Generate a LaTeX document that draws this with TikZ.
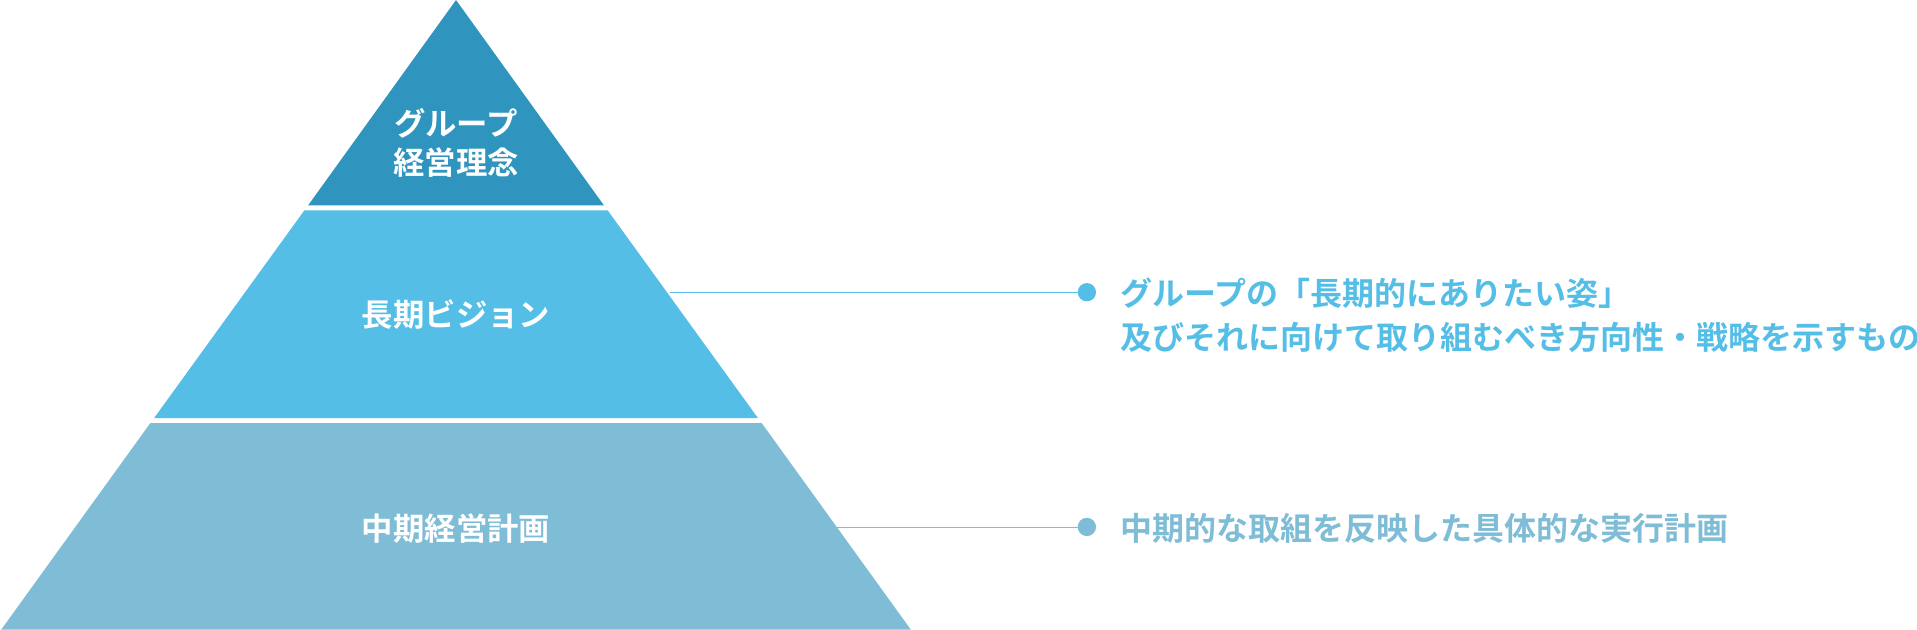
\documentclass[tikz,border=0pt]{standalone}
\usepackage{fontspec}
\setmainfont{Noto Sans CJK JP Bold}
\definecolor{topblue}{HTML}{3095BE}
\definecolor{midblue}{HTML}{55BEE6}
\definecolor{lowblue}{HTML}{7FBDD6}
\begin{document}
\begin{tikzpicture}[x=0.02cm,y=-0.02cm]
\tikzset{layer/.style={text=white,font=\fontsize{14.6}{18}\selectfont,align=center},
  note/.style={anchor=west,font=\fontsize{14.9}{20.5}\selectfont,align=left}}
    \useasboundingbox (0,0) rectangle (1568,515);

    \fill[topblue] (373,0) -- (494,168) -- (252,168) -- cycle;
    \fill[midblue] (497,172) -- (620,342) -- (126,342) -- (249,172) -- cycle;
    \fill[lowblue] (623,346) -- (745,515) -- (1,515) -- (123,346) -- cycle;

\node[layer] (keiei) at (373,117) {グループ\\経営理念};
\node[layer] (vision) at (373,257) {長期ビジョン};
\node[layer] (plan) at (373,432) {中期経営計画};

\coordinate (v) at (548,239);
\coordinate (p) at (683,431);
\fill[midblue] (889,239) circle (7.5) coordinate (vdot);
\fill[lowblue] (889,431) circle (7.5) coordinate (pdot);
\draw[midblue] (v) -- (vdot);
\draw[lowblue] (p) -- (pdot);

\node[note,text=midblue] (visionnote) at (910,258) {グループの「長期的にありたい姿」\\及びそれに向けて取り組むべき方向性・戦略を示すもの};
\node[note,text=lowblue] (plannote) at (910,432) {中期的な取組を反映した具体的な実行計画};

\end{tikzpicture}
\end{document}
